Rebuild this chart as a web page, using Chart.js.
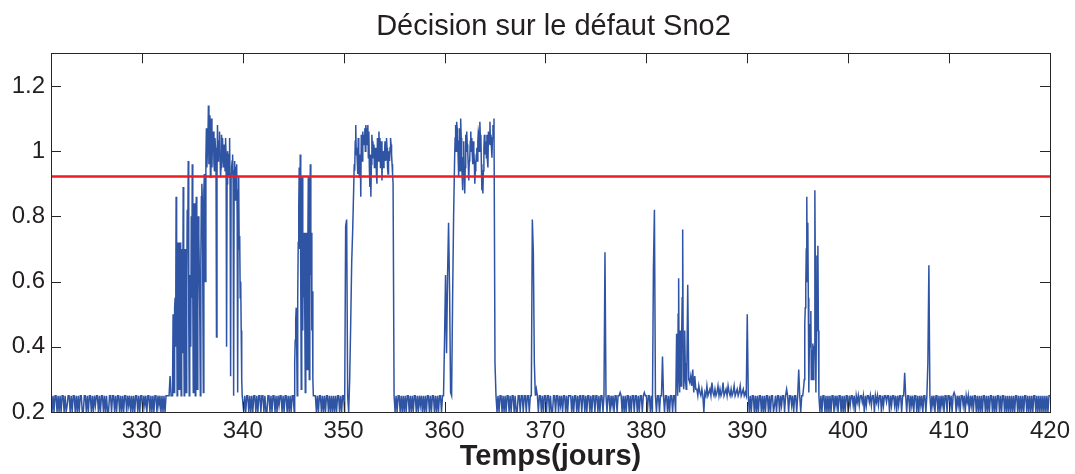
<!DOCTYPE html>
<html>
<head>
<meta charset="utf-8">
<script src="https://cdn.jsdelivr.net/npm/chart.js@4.4.1/dist/chart.umd.min.js"></script>
<style>
  body { margin: 0; background: #fff; }
</style>
</head>
<body>
<canvas id="grafique" width="1075" height="474"></canvas>
<script>
// décision Sno2, un échantillon tous les 0.1 jour, en centièmes
const debut = 321;
const pas = 0.1;

const b321 = [
  25,20,25,20,25,25,20,25,20,25,
  20,25,25,20,25,20,22,25,25,20,
  25,20,25,25,20,25,20,25,20,25,
  25,20,20,25,25,20,25,20,25,25,
  20,25,20,25,22,25,25,20,25,20,
  25,25,20,25,20,25,20,20,25,25,
  20,25,25,20,25,20,25,25,20,25,
  20,25,20,25,25,20,25,22,25,20,
  25,20,25,20,25,25,20,25,20,25
];
const b330 = [
  25,20,25,22,25,20,25,25,20,25,
  20,25,20,25,25,20,25,22,25,20,
  25,20,25,20,25,25,25,25,31,25,
  25,50,26,55,86,25,72,27,72,25,
  60,89,25,70,26,82,97,25,53,80,
  96,26,84,25,86,27,80,63,25,86,
  85,26,93,60,107,100,114,111,92,110,
  103,106,94,101,43,108,101,106,92,105,
  104,95,98,104,40,100,92,104,31,95,
  99,25,97,90,96,26,92,74,60,30
];
const b340 = [
  25,20,25,20,25,25,20,25,20,25,
  20,25,25,20,25,20,25,25,20,25,
  25,20,25,20,20,25,25,20,25,20,
  25,25,20,25,20,25,22,25,25,20,
  25,20,25,25,20,25,20,25,20,25,
  25,20,42,52,25,72,95,99,27,92,
  69,75,26,75,33,92,30,96,75,57,
  25,25,25,20,25,20,25,25,20,25,
  20,25,20,25,25,20,25,20,25,20,
  25,20,25,20,25,25,20,25,20,25
];
const b350 = [
  25,20,77,79,25,20,30,47,66,76,
  89,94,108,101,93,100,96,86,101,106,
  105,107,108,107,108,106,89,86,105,103,
  102,96,98,90,101,106,104,97,91,100,
  100,103,98,101,93,98,101,102,96,90,
  25,20,25,20,25,25,20,25,20,25,
  20,25,20,25,25,20,25,20,25,20,
  25,25,20,25,20,25,22,25,20,25,
  20,25,20,25,25,20,25,20,25,25,
  20,25,20,25,20,25,25,20,25,25
];
const b360 = [
  42,62,38,62,78,57,26,25,55,80,
  98,108,109,105,92,107,110,98,88,103,
  87,105,106,100,91,98,106,104,96,100,
  90,96,101,103,105,109,105,88,87,101,
  99,103,105,95,102,109,105,98,108,110,
  35,25,20,25,20,25,25,20,25,20,
  25,20,25,25,20,25,20,25,25,20,
  25,20,20,25,25,20,25,25,20,25,
  25,20,25,25,20,25,25,79,69,35,
  25,27,25,20,25,25,20,25,20,25
];
const b370 = [
  25,20,25,25,20,25,20,20,25,25,
  20,25,25,20,25,22,25,20,25,25,
  20,25,20,25,25,25,20,25,20,25,
  25,20,25,20,25,25,20,25,25,20,
  25,20,25,25,20,25,20,25,25,20,
  25,25,20,25,20,25,25,20,25,69,
  25,20,25,25,20,25,22,25,20,25,
  25,20,25,25,26,25,20,25,20,25,
  20,25,25,20,25,20,25,25,20,25,
  25,20,25,20,25,25,20,25,26,25
];
const b380 = [
  25,20,25,25,20,25,20,64,82,25,
  20,25,25,20,25,25,37,25,20,25,
  25,20,25,20,25,25,20,25,25,20,
  44,25,61,26,38,43,76,27,45,29,
  29,59,30,29,31,28,33,26,31,27,
  27,25,28,26,25,27,25,20,26,25,
  28,25,26,27,25,29,26,25,27,25,
  26,28,25,27,25,26,29,25,26,27,
  25,28,26,25,27,25,26,28,25,26,
  27,25,26,28,25,26,27,25,26,25
];
const b390 = [
  50,25,20,25,20,25,25,20,25,20,
  25,20,25,25,20,25,20,25,20,25,
  25,20,25,20,25,25,20,22,25,20,
  25,25,20,25,22,25,25,20,25,27,
  25,20,25,25,22,25,20,25,25,20,
  25,33,25,20,25,25,28,47,59,86,
  78,26,47,51,39,41,33,88,26,68,
  71,25,20,25,20,25,25,20,25,20,
  25,20,25,20,25,25,20,25,22,25,
  20,25,25,20,25,20,25,20,25,25
];
const b400 = [
  20,25,22,25,25,22,25,20,25,23,
  25,22,25,25,23,25,20,25,22,25,
  25,23,25,22,25,25,20,25,23,25,
  22,25,25,20,25,22,25,25,23,25,
  25,20,25,22,25,25,22,25,20,25,
  22,25,25,20,25,25,32,25,20,25,
  25,20,25,22,25,20,25,25,20,25,
  20,25,22,25,20,25,25,20,25,35,
  65,25,20,25,22,25,20,25,25,20,
  25,20,25,22,25,20,25,25,20,25
];
const b410 = [
  25,22,25,20,25,26,25,20,25,22,
  25,20,25,25,22,25,20,25,23,25,
  20,25,22,25,20,25,25,20,25,20,
  25,20,25,20,25,25,20,25,20,25,
  20,25,25,20,25,20,25,20,25,25,
  20,25,20,25,25,20,25,20,25,20,
  25,20,25,20,25,20,25,25,20,25,
  20,25,20,25,20,25,25,20,25,20,
  25,20,25,20,25,25,20,25,20,25,
  20,25,20,25,20,25,20,25,20,25,
  25
];

// échantillons intermédiaires (décalés de 0.05 jour) dans les zones actives
const p333 = [ // 333.05 -> 339.95
  30,45,52,40,60,48,35,55,46,70,
  38,52,66,44,58,71,49,62,40,55,
  58,70,45,79,60,52,74,48,66,90,
  55,88,70,98,95,103,96,105,100,95,
  100,96,104,98,92,97,103,99,95,101,
  97,102,94,99,90,96,99,88,93,97,
  90,94,85,95,80,88,70,55,45,25
];
const p345 = [ // 345.15 -> 346.95
  35,48,40,55,82,70,60,50,45,
  55,50,60,45,70,55,80,62,45,30
];
const p351 = [ // 351.05 -> 354.85
  96,103,99,97,104,92,99,105,97,102,
  104,100,106,102,98,95,99,96,101,98,
  95,101,93,104,97,100,95,103,98,95,
  99,97,104,95,100,97,104,99,93
];
const p361 = [ // 361.05 -> 364.85
  104,100,107,98,103,94,104,92,98,95,
  95,100,102,96,97,103,100,99,103,97,
  94,99,97,106,100,104,96,92,94,105,
  101,98,97,106,104,102,101,104,106
];
const p383 = [ // 383.05 -> 383.95
  35,50,30,45,28,55,40,30,35,27
];
const p395 = [ // 395.65 -> 397.05
  30,52,70,60,
  55,40,45,30,35,30,40,60,45,50,
  45
];

const seuil = 0.922;
const xMin = 321, xMax = 420;
const yMin = 0.2, yMax = 1.3;
const xTicks = [330, 340, 350, 360, 370, 380, 390, 400, 410, 420];
const yTicks = [0.2, 0.4, 0.6, 0.8, 1, 1.2];
const titre = 'Décision sur le défaut Sno2';

function echantillons(t0, vals) {
  return vals.map((v, i) => ({ x: t0 + i * pas, y: v / 100 }));
}

const valeurs = [].concat(b321, b330, b340, b350, b360, b370, b380, b390, b400, b410);
const points = [].concat(
  echantillons(debut, valeurs),
  echantillons(333.05, p333),
  echantillons(345.15, p345),
  echantillons(351.05, p351),
  echantillons(361.05, p361),
  echantillons(383.05, p383),
  echantillons(395.65, p395)
).sort((a, b) => a.x - b.x);

const police = '"Liberation Sans", Arial, Helvetica, sans-serif';
const noir = '#231f20';

// titre centré sur les axes, boite fermée avec graduations vers l'intérieur
const cadre = {
  id: 'cadre',
  afterDraw(chart) {
    const { ctx, chartArea: a, scales } = chart;
    const lg = 10;
    ctx.save();
    ctx.strokeStyle = '#262626';
    ctx.lineWidth = 1;
    ctx.beginPath();
    xTicks.forEach(v => {
      const px = Math.round(scales.x.getPixelForValue(v)) + 0.5;
      ctx.moveTo(px, a.bottom); ctx.lineTo(px, a.bottom - lg);
      ctx.moveTo(px, a.top); ctx.lineTo(px, a.top + lg);
    });
    yTicks.forEach(v => {
      const py = Math.round(scales.y.getPixelForValue(v)) + 0.5;
      ctx.moveTo(a.left, py); ctx.lineTo(a.left + lg, py);
      ctx.moveTo(a.right, py); ctx.lineTo(a.right - lg, py);
    });
    ctx.stroke();
    ctx.strokeRect(Math.round(a.left) + 0.5, Math.round(a.top) + 0.5,
      Math.round(a.right - a.left), Math.round(a.bottom - a.top));

    ctx.fillStyle = noir;
    ctx.font = '29px ' + police;
    ctx.textAlign = 'center';
    ctx.textBaseline = 'alphabetic';
    ctx.fillText(titre, (a.left + a.right) / 2 + 3, 35);
    ctx.restore();
  }
};

new Chart(document.getElementById('grafique'), {
  type: 'line',
  data: {
    datasets: [{
      label: 'seuil',
      data: [{ x: xMin, y: seuil }, { x: xMax, y: seuil }],
      borderColor: '#ed1c24',
      borderWidth: 2.6,
      pointRadius: 0,
      order: 0
    }, {
      label: 'Sno2',
      data: points,
      borderColor: '#2f54a4',
      borderWidth: 1.5,
      pointRadius: 0,
      tension: 0,
      order: 1
    }]
  },
  options: {
    responsive: false,
    devicePixelRatio: 1,
    animation: false,
    layout: { padding: { left: 0, right: 25, top: 53.3, bottom: 0 } },
    plugins: {
      legend: { display: false },
      tooltip: { enabled: false },
      title: { display: false }
    },
    scales: {
      x: {
        type: 'linear',
        min: xMin,
        max: xMax,
        afterBuildTicks: s => { s.ticks = xTicks.map(v => ({ value: v })); },
        afterFit: s => { s.height = 62; },
        grid: { display: false, drawTicks: false },
        border: { display: false },
        ticks: {
          color: noir,
          font: { family: police, size: 24 },
          padding: 5,
          maxRotation: 0,
          autoSkip: false,
          callback: v => String(v)
        },
        title: {
          display: true,
          text: 'Temps(jours)',
          color: noir,
          font: { family: police, size: 29, weight: 'bold' },
          padding: { top: 0, bottom: 0 }
        }
      },
      y: {
        min: yMin,
        max: yMax,
        afterBuildTicks: s => { s.ticks = yTicks.map(v => ({ value: v })); },
        afterFit: s => { s.width = 51; },
        grid: { display: false, drawTicks: false },
        border: { display: false },
        ticks: {
          color: noir,
          font: { family: police, size: 24 },
          padding: 6,
          callback: v => String(Math.round(v * 10) / 10)
        }
      }
    }
  },
  plugins: [cadre]
});
</script>
</body>
</html>
